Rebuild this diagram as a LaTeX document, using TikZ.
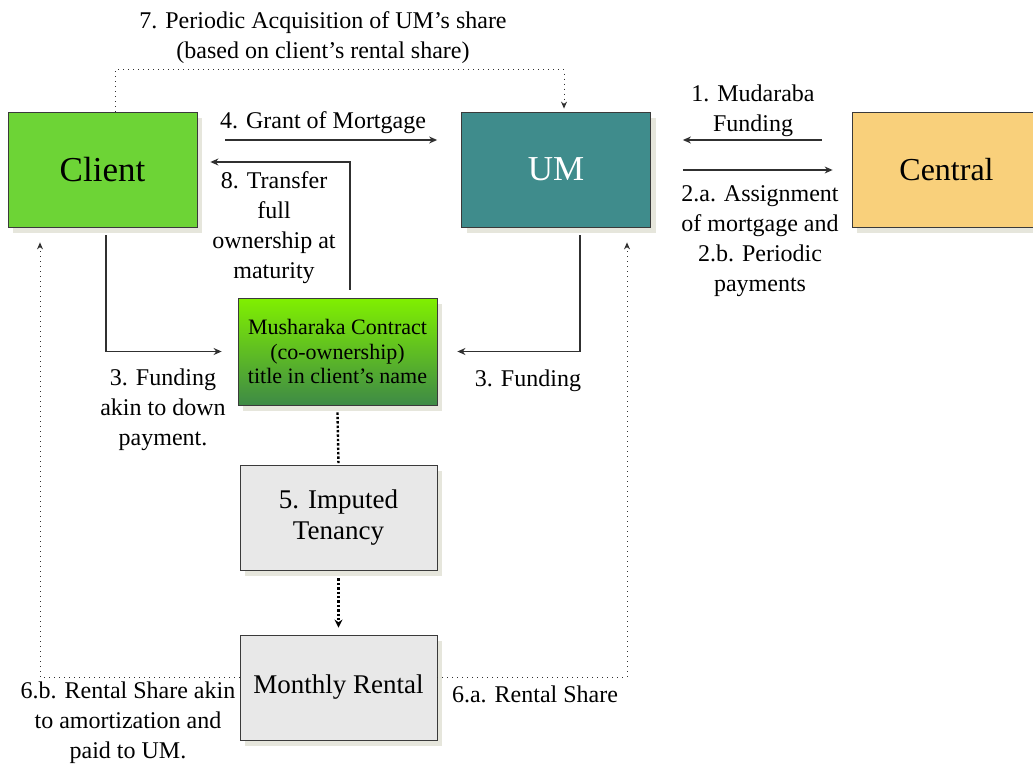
\documentclass[tikz,border=0pt]{standalone}
\usepackage{fontspec}
\setmainfont{Liberation Serif}
\usetikzlibrary{positioning,calc,arrows.meta,shadows}

\definecolor{clientgreen}{HTML}{6DD436}
\definecolor{umteal}{HTML}{3F8C8C}
\definecolor{centralyellow}{HTML}{F9D07B}
\definecolor{boxgrey}{HTML}{E8E8E8}
\definecolor{boxline}{HTML}{3A3A3A}
\definecolor{shadegrey}{HTML}{E6E6DC}
\definecolor{linegrey}{HTML}{303030}
\definecolor{mushtop}{HTML}{80F000}
\definecolor{mushbottom}{HTML}{3E8A46}

\begin{document}
\begin{tikzpicture}[
            x=0.5pt, y=-0.5pt,
            box/.style={draw=boxline, rectangle, align=center, inner sep=0pt,
                minimum width=94.5pt, minimum height=57.5pt,
                font=\fontsize{17.5}{21}\selectfont,
                drop shadow={shadow xshift=2.5pt, shadow yshift=-3pt, fill=shadegrey, opacity=1}},
            midbox/.style={box, minimum width=98.5pt, minimum height=52.5pt,
                fill=boxgrey, font=\fontsize{13.5}{15.5}\selectfont},
            lbl/.style={align=center, inner sep=0pt, font=\fontsize{12}{15}\selectfont},
            arr/.style={draw=linegrey, line width=0.6pt, -{Stealth[length=4pt, width=3.5pt]}},
            dots/.style={draw=linegrey, line width=0.5pt, dotted, -{Stealth[length=3.5pt, width=3pt]}},
            thickdots/.style={draw=black, line width=1.2pt, densely dotted}
        ]
        \useasboundingbox (0,0) rectangle (1033,765);

        % main parties
        \node[box, fill=clientgreen] (client) at (102.5,169.5) {Client};
        \node[box, fill=umteal, text=white] (um) at (556,169.5) {UM};
        \node[box, fill=centralyellow, font=\fontsize{16}{19}\selectfont] (central) at (946.5,169.5) {Central};

        % contract chain
        \node[box, minimum width=99.5pt, minimum height=53.5pt,
              top color=mushtop, bottom color=mushbottom,
              font=\fontsize{11}{12.25}\selectfont] (mush) at (337.5,351.5)
              {Musharaka Contract\\(co-ownership)\\title in client’s name};
        \node[midbox] (imp) at (338.5,517.5) {5. Imputed\\Tenancy};
        \node[midbox] (mon) at (338.5,687.5) {Monthly Rental};

        % labels
        \node[lbl] (l7) at (323,38) {7. Periodic Acquisition of UM’s share\\(based on client’s rental share)};
        \node[lbl] (l4) at (323,123) {4. Grant of Mortgage};
        \node[lbl] (l8) at (274,228) {8. Transfer\\full\\ownership at\\maturity};
        \node[lbl] (l1) at (753,111) {1. Mudaraba\\Funding};
        \node[lbl] (l2) at (760,241) {2.a. Assignment\\of mortgage and\\2.b. Periodic\\payments};
        \node[lbl] (l3a) at (163,410) {3. Funding\\akin to down\\payment.};
        \node[lbl] (l3b) at (528,381) {3. Funding};
        \node[lbl] (l6b) at (128,723) {6.b. Rental Share akin\\to amortization and\\paid to UM.};
        \node[lbl] (l6a) at (535,694) {6.a. Rental Share};

        % connectors
        \draw[dots] ($(client.north)+(12.5,0)$) -- ++(0,-42) -| ($(um.north)+(8,-3)$);
        \draw[arr] ($(client.east)+(28,-29.5)$) -- ($(um.west)+(-24,-29.5)$);
        \draw[arr] ($(mush.north)+(12.5,-8)$) |- ($(client.east)+(13,-7.5)$);
        \draw[arr] ($(client.south)+(3.5,8)$) |- ($(mush.west)+(-16,0)$);
        \draw[arr] ($(um.south)+(24,8)$) |- ($(mush.east)+(20,0)$);
        \draw[arr] ($(central.west)+(-30,-29.5)$) -- ($(um.east)+(32,-29.5)$);
        \draw[arr] ($(um.east)+(32,0.5)$) -- ($(central.west)+(-19,0.5)$);

        \draw[thickdots] ([yshift=-3.5pt]mush.south) -- (imp.north);
        \draw[thickdots, -{Stealth[length=4pt, width=4pt]}] ([yshift=-4pt]imp.south) -- ([yshift=3.5pt]mon.north);

        \draw[dots] ($(mon.west)+(0,-10.5)$) -| ($(client.south)+(-62.5,15)$);
        \draw[dots] ($(mon.east)+(0,-10.5)$) -| ($(um.south)+(71,15)$);
    \end{tikzpicture}
\end{document}
